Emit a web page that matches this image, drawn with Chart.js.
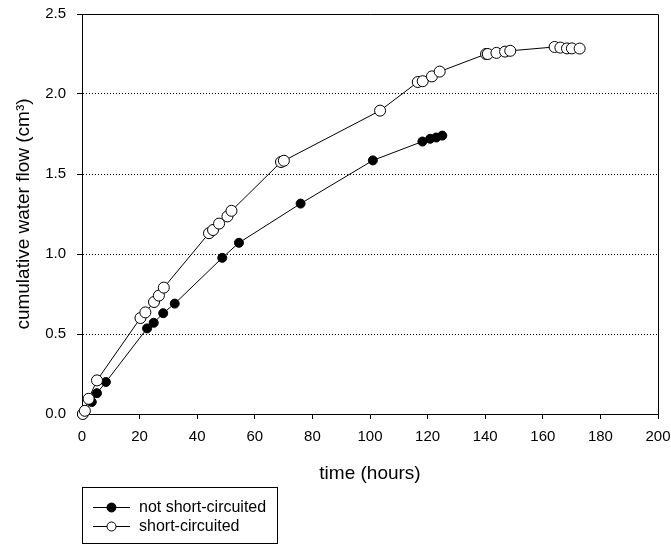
<!DOCTYPE html>
<html>
<head>
<meta charset="utf-8">
<title>cumulative water flow</title>
<script src="https://cdn.jsdelivr.net/npm/chart.js@4/dist/chart.umd.min.js"></script>
<style>
    html, body { margin: 0; padding: 0; background: #fff; }
    #chart { display: block; }
</style>
</head>
<body>
<canvas id="chart" width="671" height="547"></canvas>
<script>
// Values
const timeNotShort = [0, 3.4, 5.2, 8.3, 22.6, 24.9, 28.2, 32.2, 48.7, 54.5, 75.9, 101, 118.2, 120.9, 123, 125.1];
const flowNotShort = [0, 0.075, 0.13, 0.2, 0.535, 0.57, 0.63, 0.69, 0.976, 1.07, 1.315, 1.585, 1.703, 1.72, 1.728, 1.74];

const timeShort = [0.3, 1, 2.3, 5.2, 20.3, 22, 25, 26.7, 28.4, 44.1, 45.5, 47.6, 50.5, 51.9, 69.1, 70.1, 103.5,
    116.6, 118.3, 121.5, 124.2, 140.3, 140.9, 143.9, 146.9, 148.7, 164.1, 166.1, 168.4, 170.1, 172.8];
const flowShort = [0, 0.02, 0.095, 0.21, 0.6, 0.635, 0.7, 0.74, 0.79, 1.13, 1.15, 1.19, 1.235, 1.27, 1.575, 1.583, 1.896,
    2.075, 2.08, 2.11, 2.14, 2.25, 2.25, 2.257, 2.265, 2.27, 2.294, 2.29, 2.285, 2.285, 2.284];

const seriesLabels = ['not short-circuited', 'short-circuited'];
const xTitle = 'time (hours)';
const yTitle = 'cumulative water flow (cm\u00B3)';

const FONT = "'Liberation Sans', Arial, sans-serif";

function toPoints(xs, ys) {
    return xs.map((x, i) => ({ x: x, y: ys[i] }));
}

// no extra room for labels, the layout padding decides the plot area
function noPadding(scale) {
    scale.paddingTop = 0;
    scale.paddingBottom = 0;
    scale.paddingLeft = 0;
    scale.paddingRight = 0;
}

// frame top/right edges + SigmaPlot style legend (line through marker, boxed)
const boxLegend = {
    id: 'boxLegend',
    afterDraw(chart) {
        const ctx = chart.ctx;
        const a = chart.chartArea;
        ctx.save();
        ctx.strokeStyle = '#000';
        ctx.lineWidth = 1;
        ctx.beginPath();
        ctx.moveTo(a.left, a.top + 0.5);
        ctx.lineTo(a.right + 0.5, a.top + 0.5);
        ctx.lineTo(a.right + 0.5, a.bottom);
        ctx.stroke();

        ctx.strokeRect(82.5, 487.5, 195, 56);
        ctx.font = '16px ' + FONT;
        ctx.textBaseline = 'middle';
        const rows = [507, 526];
        chart.data.datasets.forEach((ds, i) => {
            const y = rows[i] + 0.5;
            ctx.beginPath();
            ctx.moveTo(93, y);
            ctx.lineTo(130, y);
            ctx.stroke();
            ctx.beginPath();
            ctx.arc(111.5, y, 4.5, 0, Math.PI * 2);
            ctx.fillStyle = ds.pointBackgroundColor;
            ctx.fill();
            ctx.stroke();
            ctx.fillStyle = '#000';
            ctx.fillText(ds.label, 139, y);
        });
        ctx.restore();
    }
};

new Chart(document.getElementById('chart'), {
    type: 'line',
    data: {
        datasets: [{
            label: seriesLabels[0],
            data: toPoints(timeNotShort, flowNotShort),
            borderColor: '#000',
            borderWidth: 1,
            pointBackgroundColor: '#000',
            pointBorderColor: '#000',
            pointBorderWidth: 1,
            pointRadius: 4.5,
            clip: false,
            order: 2
        }, {
            label: seriesLabels[1],
            data: toPoints(timeShort, flowShort),
            borderColor: '#000',
            borderWidth: 1,
            pointBackgroundColor: '#fff',
            pointBorderColor: '#000',
            pointBorderWidth: 1,
            pointRadius: 5.5,
            clip: false,
            order: 1
        }]
    },
    options: {
        responsive: false,
        animation: false,
        devicePixelRatio: 1,
        layout: { padding: { top: 14, right: 13, bottom: 0, left: 0 } },
        plugins: {
            legend: { display: false },
            tooltip: { enabled: false }
        },
        scales: {
            x: {
                type: 'linear',
                min: 0,
                max: 200,
                ticks: { stepSize: 20, color: '#000', font: { family: FONT, size: 15 }, padding: 9, maxRotation: 0 },
                grid: { drawOnChartArea: false, tickLength: 5, tickColor: '#000' },
                border: { color: '#000', width: 1 },
                title: {
                    display: true, text: xTitle, color: '#000',
                    font: { family: FONT, size: 19 }, padding: { top: 0, bottom: 62 }
                },
                afterFit(scale) {
                    scale.height = 133;
                    noPadding(scale);
                }
            },
            y: {
                type: 'linear',
                min: 0,
                max: 2.5,
                ticks: {
                    stepSize: 0.5, color: '#000', font: { family: FONT, size: 15 }, padding: 11,
                    callback: v => v.toFixed(1)
                },
                grid: {
                    color: c => (c.tick && c.tick.value > 0 && c.tick.value < 2.5) ? '#000' : 'rgba(0,0,0,0)',
                    tickBorderDash: [],
                    tickColor: '#000',
                    tickLength: 5
                },
                border: { color: '#000', width: 1, dash: [1, 2] },
                title: {
                    display: true, text: yTitle, color: '#000',
                    font: { family: FONT, size: 19 }, padding: { top: 12, bottom: 0 }
                },
                afterFit(scale) {
                    scale.width = 82;
                    noPadding(scale);
                }
            }
        }
    },
    plugins: [boxLegend]
});
</script>
</body>
</html>
